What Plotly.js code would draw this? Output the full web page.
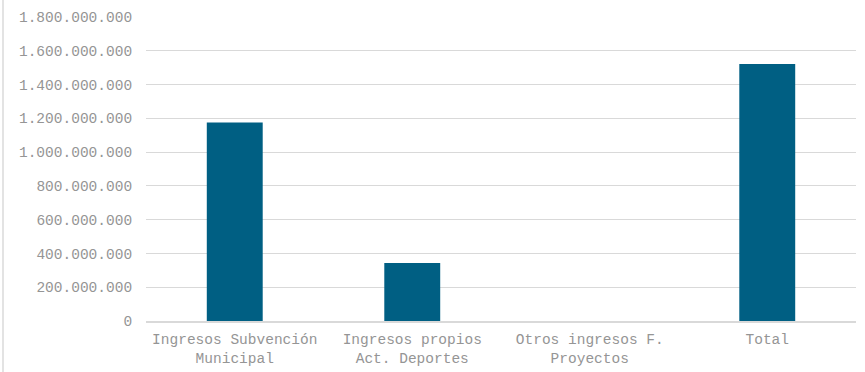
<!DOCTYPE html>
<html>
<head>
<meta charset="utf-8">
<script src="https://cdn.plot.ly/plotly-3.0.1.min.js"></script>
<style>
html,body{margin:0;padding:0;background:#fff;}
#frame{position:absolute;left:2px;top:0;width:2px;height:372px;background:#e3e3e3;}
#chart{position:absolute;left:0;top:0;width:865px;height:372px;}
</style>
</head>
<body>
<div id="frame"></div>
<div id="chart"></div>
<script>
const categories = [
  "Ingresos Subvención<br>Municipal",
  "Ingresos propios<br>Act. Deportes",
  "Otros ingresos F.<br>Proyectos",
  "Total"
];
const values = [1176000000, 343000000, 0, 1521000000];
const tickVals = [0, 200000000, 400000000, 600000000, 800000000, 1000000000, 1200000000, 1400000000, 1600000000, 1800000000];

const trace = {
  type: "bar",
  x: categories,
  y: values,
  marker: {color: "#005F83", line: {width: 0}},
  hoverinfo: "none"
};

const layout = {
  width: 865,
  height: 372,
  margin: {l: 146, r: 9, t: 17, b: 51},
  paper_bgcolor: "rgba(0,0,0,0)",
  plot_bgcolor: "rgba(0,0,0,0)",
  separators: ",.",
  bargap: 0.685,
  showlegend: false,
  font: {family: "Liberation Mono, Courier New, monospace", size: 14.5, color: "#959595"},
  xaxis: {
    showgrid: false,
    showline: true,
    linecolor: "#d9d9d9",
    linewidth: 1.5,
    ticks: "",
    ticklabelstandoff: 4,
    tickfont: {size: 14.5, color: "#959595"},
    fixedrange: true
  },
  yaxis: {
    range: [0, 1800000000],
    tickvals: tickVals,
    tickformat: ",d",
    showgrid: true,
    gridcolor: "#d9d9d9",
    gridwidth: 1,
    zeroline: false,
    showline: false,
    ticks: "outside",
    ticklen: 10,
    tickcolor: "rgba(0,0,0,0)",
    tickfont: {size: 14.5, color: "#959595"},
    fixedrange: true
  }
};

Plotly.newPlot("chart", [trace], layout, {displayModeBar: false, staticPlot: true});
</script>
</body>
</html>
